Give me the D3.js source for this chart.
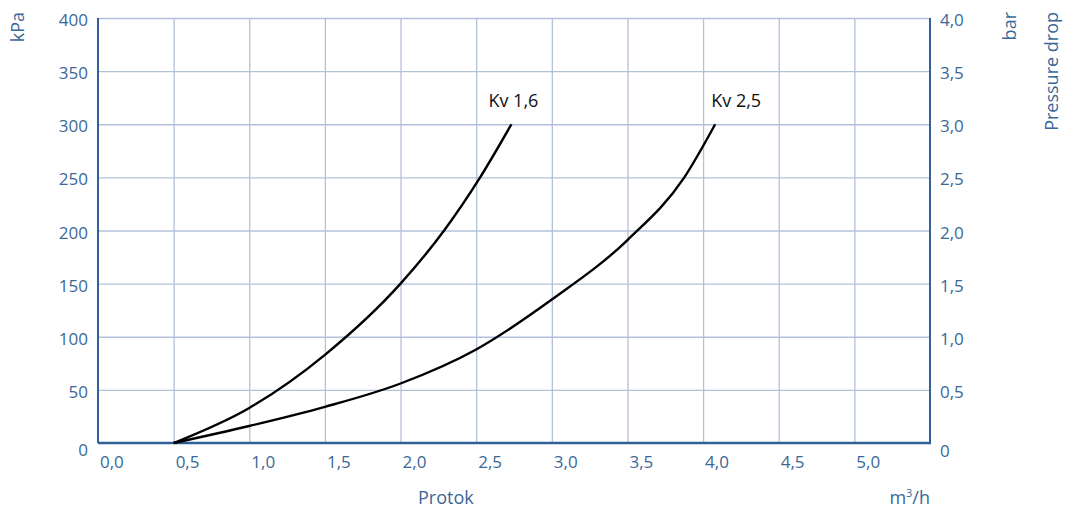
<!DOCTYPE html>
<html>
<head>
<meta charset="utf-8">
<script src="https://cdn.jsdelivr.net/npm/d3@7"></script>
<style>
  body { margin: 0; background: #fff; }
  svg { font-family: "Open Sans", sans-serif; }
  .grid line { stroke: #b3c0da; stroke-width: 1.3; }
  .grid .domain { display: none; }
  .tick-label { fill: #3a6898; font-size: 17px; }
  .title { fill: #3a6898; font-size: 18px; }
  .curve-label { fill: #111; font-size: 18px; }
</style>
</head>
<body>
<svg id="chart" width="1065" height="510"></svg>
<script>
// Data
var flowTicks = [0, 0.5, 1.0, 1.5, 2.0, 2.5, 3.0, 3.5, 4.0, 4.5, 5.0];
var kpaTicks = [0, 50, 100, 150, 200, 250, 300, 350, 400];
var barTicks = [0, 0.5, 1.0, 1.5, 2.0, 2.5, 3.0, 3.5, 4.0];

var kv16Flow = [0.5, 1.0, 1.5, 2.0, 2.288, 2.526, 2.733];
var kv16Kpa  = [0,   33,  83,  150, 200,   250,   300];

var kv25Flow = [0.5, 1.0, 1.5, 2.0, 2.5, 3.0, 3.5, 3.876, 4.08];
var kv25Kpa  = [0,   16,  34,  56,  88,  135, 191, 250,   300];

var seriesNames = ["Kv 1,6", "Kv 2,5"];

var series = [
  { name: seriesNames[0], pts: kv16Flow.map(function(f, i) { return [f, kv16Kpa[i]]; }), dx: -23 },
  { name: seriesNames[1], pts: kv25Flow.map(function(f, i) { return [f, kv25Kpa[i]]; }), dx: -4 }
];

var svg = d3.select("#chart");
var pLeft = 98, pRight = 930, pTop = 18, pBottom = 443;
var axisColor = "#2f6196";

var x = d3.scaleLinear().domain([0, 5.5]).range([pLeft, pRight]);
var y = d3.scaleLinear().domain([0, 400]).range([pBottom, pTop]);
var yBar = d3.scaleLinear().domain([0, 4]).range([pBottom, pTop]);

var comma = function(v) { return d3.format(".1f")(v).replace(".", ","); };

// grid
svg.append("g").attr("class", "grid")
  .attr("transform", "translate(0," + pBottom + ")")
  .call(d3.axisBottom(x).tickValues(flowTicks.slice(1)).tickSize(-(pBottom - pTop)).tickFormat(""));
svg.append("g").attr("class", "grid")
  .attr("transform", "translate(" + pLeft + ",0)")
  .call(d3.axisLeft(y).tickValues(kpaTicks.slice(1)).tickSize(-(pRight - pLeft)).tickFormat(""));

// axis lines
svg.append("line").attr("x1", pLeft).attr("x2", pLeft).attr("y1", pTop).attr("y2", pBottom)
  .attr("stroke", axisColor).attr("stroke-width", 2);
svg.append("line").attr("x1", pRight).attr("x2", pRight).attr("y1", pTop).attr("y2", pBottom + 1)
  .attr("stroke", axisColor).attr("stroke-width", 2);
svg.append("line").attr("x1", pLeft).attr("x2", pRight + 1).attr("y1", pBottom).attr("y2", pBottom)
  .attr("stroke", axisColor).attr("stroke-width", 2.6);

// tick labels
svg.selectAll("text.xl").data(flowTicks).enter().append("text")
  .attr("class", "tick-label xl")
  .attr("x", function(d) { return x(d) + 2; })
  .attr("y", pBottom + 25)
  .text(comma);

svg.selectAll("text.yl").data(kpaTicks).enter().append("text")
  .attr("class", "tick-label yl")
  .attr("text-anchor", "end")
  .attr("x", pLeft - 10)
  .attr("y", function(d) { return y(d) + (d === 0 ? 13 : 8); })
  .text(function(d) { return d; });

svg.selectAll("text.rl").data(barTicks).enter().append("text")
  .attr("class", "tick-label rl")
  .attr("x", pRight + 10)
  .attr("y", function(d) { return yBar(d) + (d === 0 ? 14 : 8); })
  .text(function(d) { return d === 0 ? "0" : comma(d); });

// titles
svg.append("text").attr("class", "title").attr("text-anchor", "end")
  .attr("transform", "translate(24,12) rotate(-90)").text("kPa");
svg.append("text").attr("class", "title").attr("text-anchor", "end")
  .attr("transform", "translate(1016,12) rotate(-90)").text("bar");
svg.append("text").attr("class", "title").attr("text-anchor", "end")
  .attr("transform", "translate(1058,12) rotate(-90)").text("Pressure drop");
svg.append("text").attr("class", "title").attr("x", 418).attr("y", 504).text("Protok");
svg.append("text").attr("class", "title").attr("text-anchor", "end")
  .attr("x", pRight).attr("y", 504)
  .html('m<tspan dy="-7" font-size="11">3</tspan><tspan dy="7">/h</tspan>');

// curves
var line = d3.line()
  .x(function(d) { return x(d[0]); })
  .y(function(d) { return y(d[1]); })
  .curve(d3.curveMonotoneX);

svg.selectAll("path.curve").data(series).enter().append("path")
  .attr("class", "curve")
  .attr("d", function(d) { return line(d.pts); })
  .attr("fill", "none")
  .attr("stroke", "#000")
  .attr("stroke-width", 2.4);

svg.selectAll("text.curve-label").data(series).enter().append("text")
  .attr("class", "curve-label")
  .attr("x", function(d) { return x(d.pts[d.pts.length - 1][0]) + d.dx; })
  .attr("y", function(d) { return y(d.pts[d.pts.length - 1][1]) - 17; })
  .text(function(d) { return d.name; });
</script>
</body>
</html>
